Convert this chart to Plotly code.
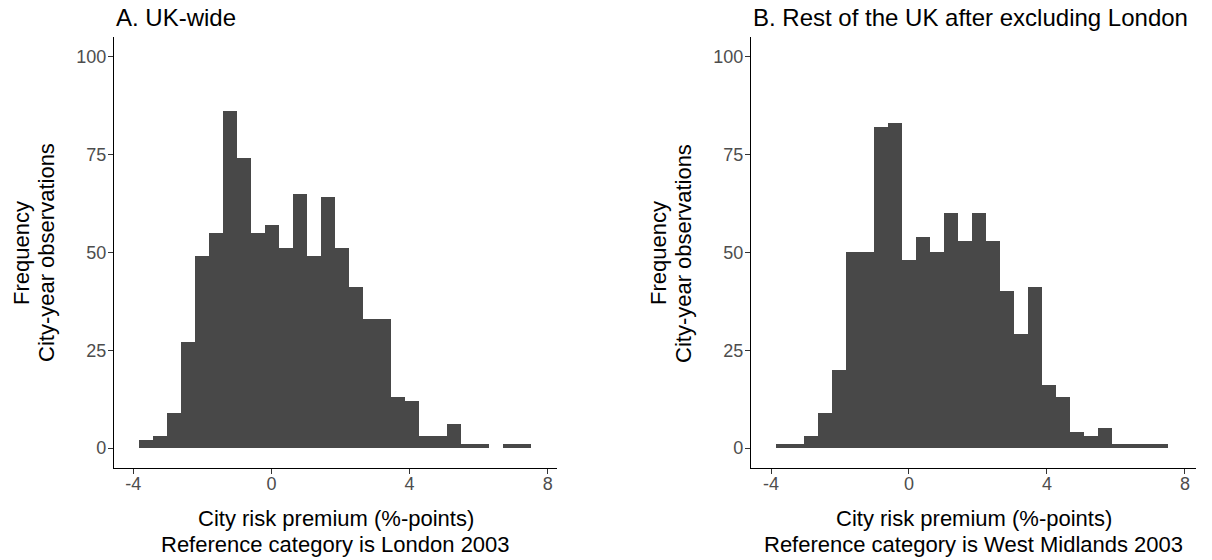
import plotly.graph_objects as go

# Histogram counts per bin (28 equal-width bins per panel)
uk_counts = [2, 3, 9, 27, 49, 55, 86, 74, 55, 57, 51, 65, 49, 64,
             51, 41, 33, 33, 13, 12, 3, 3, 6, 1, 1, 0, 1, 1]
rest_counts = [1, 1, 3, 9, 20, 50, 50, 82, 83, 48, 54, 50, 60, 53,
               60, 53, 40, 29, 41, 16, 13, 4, 3, 5, 1, 1, 1, 1]

# Bin layout (lower edge of first bin, upper edge of last bin)
uk_bin_range = (-3.823, 7.500)
rest_bin_range = (-3.855, 7.507)

x_ticks = [-4, 0, 4, 8]
x_tick_text = ["-4", "0", "4", "8"]
y_ticks = [0, 25, 50, 75, 100]

titles = ["A. UK-wide", "B. Rest of the UK after excluding London"]
x_title_line1 = "City risk premium (%-points)"
x_title_line2 = ["Reference category is London 2003",
                 "Reference category is West Midlands 2003"]
y_title_lines = ["Frequency", "City-year observations"]

W, H = 1212, 560
FONT = "Liberation Sans, Arial, Helvetica, sans-serif"
BAR = "#484848"
TICK_GREY = "#4d4d4d"

# panel geometry in pixels
panels = [
    dict(left=114, right=557, xr=(-4.555, 8.265)),
    dict(left=751, right=1196, xr=(-4.58, 8.32)),
]
plot_top, plot_bottom = 37.2, 467.7


def bins(counts, rng):
    lo, hi = rng
    w = (hi - lo) / len(counts)
    centers = [lo + w * (i + 0.5) for i in range(len(counts))]
    return centers, w


fig = go.Figure()
for i, (counts, rng) in enumerate([(uk_counts, uk_bin_range),
                                   (rest_counts, rest_bin_range)]):
    centers, w = bins(counts, rng)
    suffix = "" if i == 0 else "2"
    fig.add_trace(go.Bar(
        x=centers, y=counts, width=w,
        marker=dict(color=BAR, line=dict(width=0)),
        xaxis="x" + suffix, yaxis="y" + suffix,
        showlegend=False, hoverinfo="x+y",
    ))


def px_x(p):
    return p / W


def px_y(p):
    return 1 - p / H


axis_common = dict(
    showline=True, linecolor="black", linewidth=1.2,
    ticks="outside", ticklen=5, tickwidth=1.1, tickcolor="#333333",
    showgrid=False, zeroline=False,
    tickfont=dict(family=FONT, size=18, color=TICK_GREY),
)

layout = dict(
    width=W, height=H,
    margin=dict(l=0, r=0, t=0, b=0),
    paper_bgcolor="white", plot_bgcolor="white",
    bargap=0,
    font=dict(family=FONT, color="black"),
)
annotations = []
for i, p in enumerate(panels):
    suffix = "" if i == 0 else "2"
    layout["xaxis" + suffix] = dict(
        axis_common,
        domain=[px_x(p["left"]), px_x(p["right"])],
        range=list(p["xr"]),
        tickvals=x_ticks, ticktext=x_tick_text,
        ticklabelstandoff=-5,
        anchor="y" + suffix,
    )
    layout["yaxis" + suffix] = dict(
        axis_common,
        domain=[px_y(plot_bottom), px_y(plot_top)],
        range=[-5, 105],
        tickvals=y_ticks,
        ticklabelstandoff=-2,
        anchor="x" + suffix,
    )
    cx = (p["left"] + p["right"]) / 2
    # panel title, left-aligned with the panel
    annotations.append(dict(
        text=titles[i], x=px_x(p["left"]), y=px_y(17),
        xref="paper", yref="paper", xanchor="left", yanchor="middle",
        showarrow=False, font=dict(family=FONT, size=24, color="black"),
    ))
    # x-axis title (two lines)
    for text, yp in [(x_title_line1, 518), (x_title_line2[i], 544)]:
        annotations.append(dict(
            text=text, x=px_x(cx), y=px_y(yp),
            xref="paper", yref="paper", xanchor="center", yanchor="middle",
            showarrow=False, font=dict(family=FONT, size=22, color="black"),
        ))
    # y-axis title (two lines, rotated)
    for text, off in [(y_title_lines[0], 92), (y_title_lines[1], 67)]:
        annotations.append(dict(
            text=text, x=px_x(p["left"] - off), y=px_y(253),
            xref="paper", yref="paper", xanchor="center", yanchor="middle",
            textangle=-90, showarrow=False,
            font=dict(family=FONT, size=22, color="black"),
        ))

layout["annotations"] = annotations
fig.update_layout(**layout)
fig.write_html("out.html")
